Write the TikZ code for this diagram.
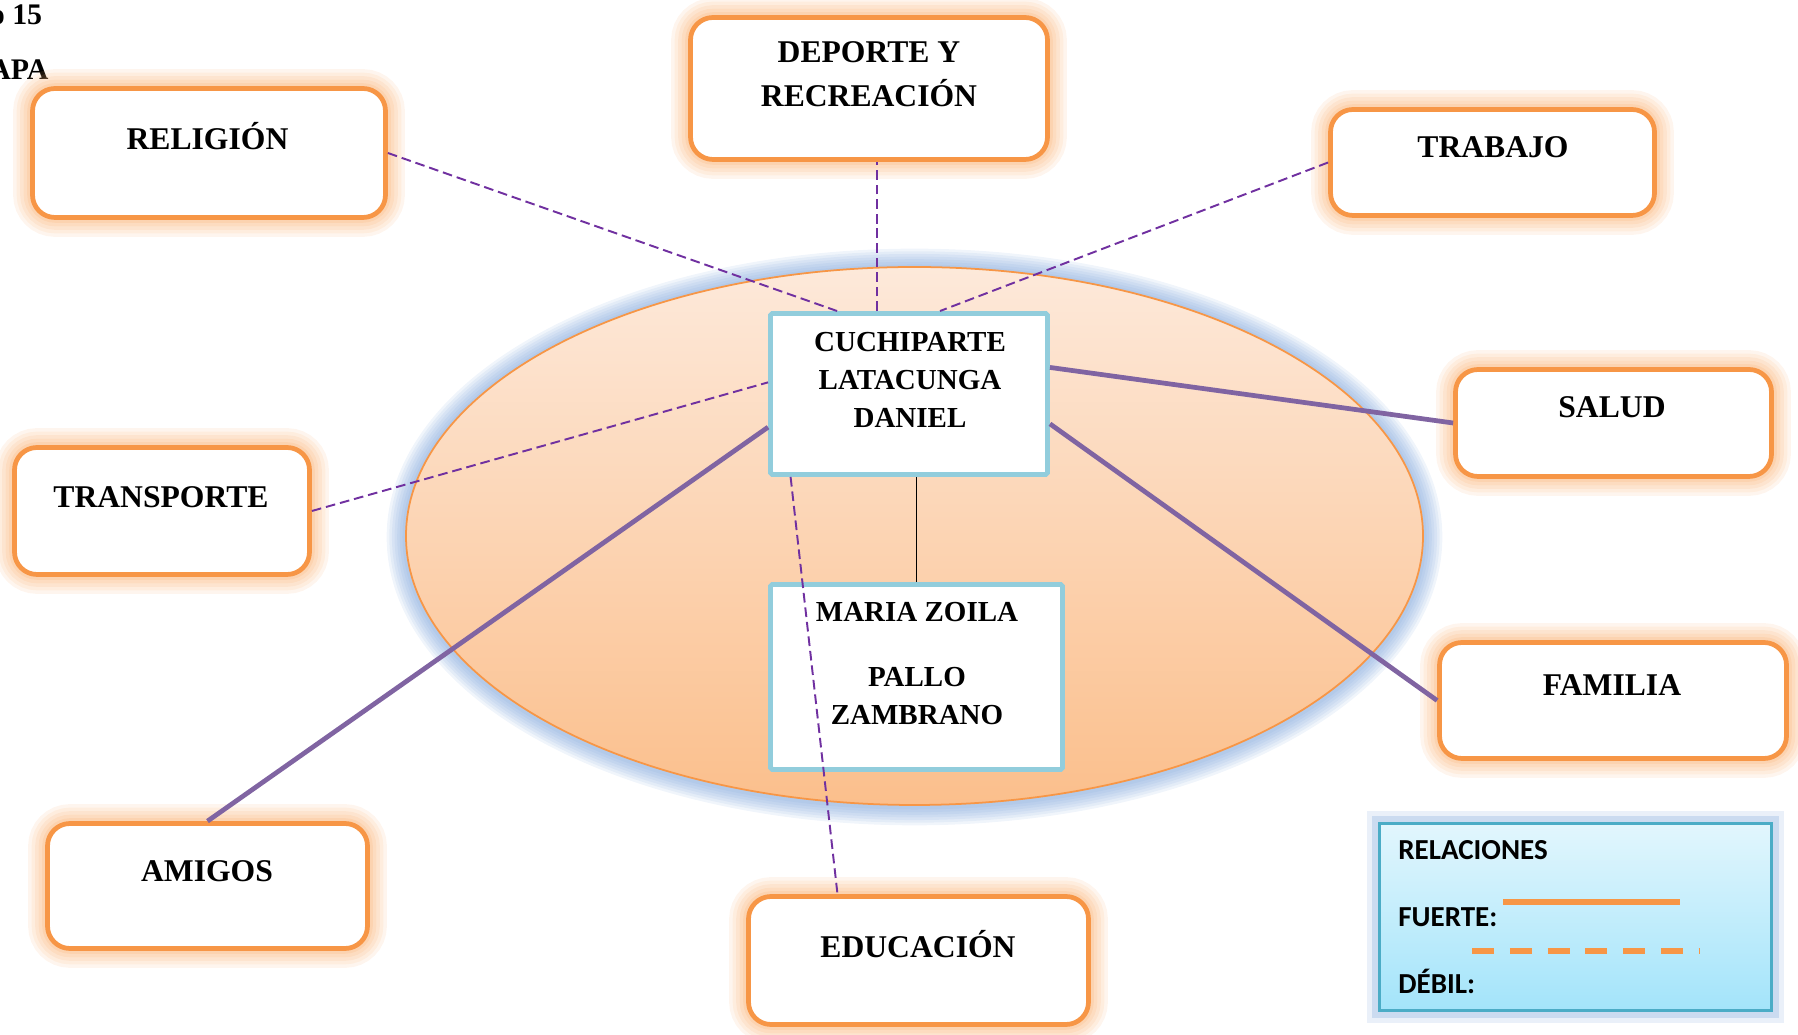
\documentclass[tikz,border=0pt]{standalone}
\usepackage{fontspec}
\setmainfont{Liberation Serif}
\newfontfamily\legfont{Carlito}
\usetikzlibrary{calc}
\definecolor{boxorange}{HTML}{F79646}
\definecolor{gloworange}{HTML}{FAB070}
\definecolor{ringblue}{HTML}{6F9AD6}
\definecolor{elltop}{HTML}{FDE9DA}
\definecolor{ellbot}{HTML}{FBBF8C}
\definecolor{cenblue}{HTML}{92CDDC}
\definecolor{legtop}{HTML}{E2F6FD}
\definecolor{legbot}{HTML}{A3E4FA}
\definecolor{legedge}{HTML}{4BACC6}
\definecolor{weakpurple}{HTML}{7030A0}
\definecolor{strongpurple}{HTML}{8064A2}

\tikzset{
  areabox/.style={draw=boxorange, line width=2.7pt, fill=white, rounded corners=0.45cm, inner sep=0pt,
    preaction={draw=gloworange, line width=22pt, opacity=0.12},
    preaction={draw=gloworange, line width=18pt, opacity=0.12},
    preaction={draw=gloworange, line width=14pt, opacity=0.14},
    preaction={draw=gloworange, line width=10pt, opacity=0.16},
    preaction={draw=gloworange, line width=6pt, opacity=0.2}},
  cenbox/.style={draw=cenblue, line width=2.8pt, fill=white, rounded corners=1pt, inner sep=0pt},
  legbox/.style={draw=legedge, line width=1.5pt, top color=legtop, bottom color=legbot, inner sep=0pt,
    preaction={draw=ringblue, line width=14pt, opacity=0.15},
    preaction={draw=ringblue, line width=8pt, opacity=0.25}},
  areatxt/.style={font=\bfseries\fontsize{18}{25}\selectfont, align=center, inner sep=0pt},
  centxt/.style={font=\bfseries\fontsize{16.5}{21.6}\selectfont, align=center, inner sep=0pt},
  legtxt/.style={font=\legfont\bfseries\fontsize{16.5}{20}\selectfont, anchor=base west, inner sep=0pt},
  weak/.style={weakpurple, line width=1.1pt, dash pattern=on 5.5pt off 2.8pt},
  strong/.style={strongpurple, line width=2.7pt},
  legline/.style={boxorange, line width=3pt}
}

\begin{document}
\begin{tikzpicture}[x=1cm,y=1cm]
\clip (0,0) rectangle (35.96,20.70);
% heading, cut at the left edge
\node[font=\bfseries\fontsize{17}{20}\selectfont, anchor=base west, inner sep=0pt] (head1) at (-0.21,20.20) {o 15};
\node[font=\bfseries\fontsize{17}{20}\selectfont, anchor=base west, inner sep=0pt] (head2) at (-0.22,19.10) {APA};
% ellipse
\foreach \w in {4,7,...,22}
  \draw[ringblue, line width=\w pt, opacity=0.1] (18.29,9.96) ellipse (10.17 and 5.38);
\shade[top color=elltop, bottom color=ellbot] (18.29,9.98) ellipse (10.17 and 5.38);
\draw[boxorange, line width=1pt] (18.29,9.98) ellipse (10.17 and 5.38);
% areas
\node[areabox, minimum width=7.06cm, minimum height=2.58cm] (rel) at (4.18,17.64) {};
\node[areabox, minimum width=7.14cm, minimum height=2.84cm] (dep) at (17.38,18.93) {};
\node[areabox, minimum width=6.48cm, minimum height=2.12cm] (tra) at (29.85,17.45) {};
\node[areabox, minimum width=6.32cm, minimum height=2.14cm] (sal) at (32.27,12.24) {};
\node[areabox, minimum width=6.94cm, minimum height=2.32cm] (fam) at (32.26,6.69) {};
\node[areabox, minimum width=5.90cm, minimum height=2.54cm] (trn) at (3.24,10.48) {};
\node[areabox, minimum width=6.40cm, minimum height=2.50cm] (ami) at (4.15,2.98) {};
\node[areabox, minimum width=6.80cm, minimum height=2.56cm] (edu) at (18.37,1.49) {};
\node[areatxt, anchor=base] (relt) at (4.15,17.70) {RELIGIÓN};
\node[areatxt] (dept) at (17.38,19.21) {DEPORTE Y\\RECREACIÓN};
\node[areatxt, anchor=base] (trat) at (29.86,17.54) {TRABAJO};
\node[areatxt, anchor=base] (salt) at (32.24,12.34) {SALUD};
\node[areatxt, anchor=base] (famt) at (32.24,6.78) {FAMILIA};
\node[areatxt, anchor=base] (trnt) at (3.22,10.54) {TRANSPORTE};
\node[areatxt, anchor=base] (amit) at (4.14,3.06) {AMIGOS};
\node[areatxt, anchor=base] (edut) at (18.36,1.54) {EDUCACIÓN};
% family
\node[cenbox, minimum width=5.54cm, minimum height=3.22cm] (cen) at (18.18,12.82) {};
\node[cenbox, minimum width=5.84cm, minimum height=3.70cm] (mar) at (18.33,7.16) {};
\node[centxt] (cent) at (18.20,13.10) {CUCHIPARTE\\LATACUNGA\\DANIEL};
\node[centxt] (mart) at (18.34,7.43) {MARIA ZOILA\\[15.4pt]PALLO\\ZAMBRANO};
% relations
\coordinate (c-rel) at ($(cen.north west)!0.245!(cen.north east)$);
\coordinate (c-dep) at ($(cen.north west)!0.387!(cen.north east)$);
\coordinate (c-tra) at ($(cen.north west)!0.61!(cen.north east)$);
\coordinate (c-sal) at ($(cen.north east)!0.34!(cen.south east)$);
\coordinate (c-fam) at ($(cen.north east)!0.68!(cen.south east)$);
\coordinate (c-trn) at ($(cen.north west)!0.43!(cen.south west)$);
\coordinate (c-ami) at ($(cen.north west)!0.70!(cen.south west)$);
\coordinate (c-edu) at ($(cen.south west)!0.08!(cen.south east)$);
\coordinate (e-edu) at ($(edu.north west)!0.265!(edu.north east)$);
\draw[weak] (rel.east) -- (c-rel);
\draw[weak] (c-dep) -- (c-dep |- dep.south);
\draw[weak] (tra.west) -- (c-tra);
\draw[weak] (trn.east) -- (c-trn);
\draw[weak] (c-edu) -- (e-edu);
\draw[strong] (c-sal) -- (sal.west);
\draw[strong] (c-fam) -- (fam.west);
\draw[strong] (c-ami) -- (ami.north);
\draw[line width=0.8pt] (mar.north) -- (mar.north |- cen.south);
% legend
\node[legbox, minimum width=7.84cm, minimum height=3.74cm] (leg) at (31.51,2.36) {};
\node[legtxt] (relac) at (27.96,3.50) {RELACIONES};
\node[legtxt] (fuerte) at (27.96,2.16) {FUERTE:};
\node[legtxt] (debil) at (27.96,0.82) {DÉBIL:};
\draw[legline] (30.06,2.66) -- (33.60,2.66);
\draw[legline, dash pattern=on 12.5pt off 9pt] (29.44,1.68) -- (34.00,1.68);
\end{tikzpicture}
\end{document}
